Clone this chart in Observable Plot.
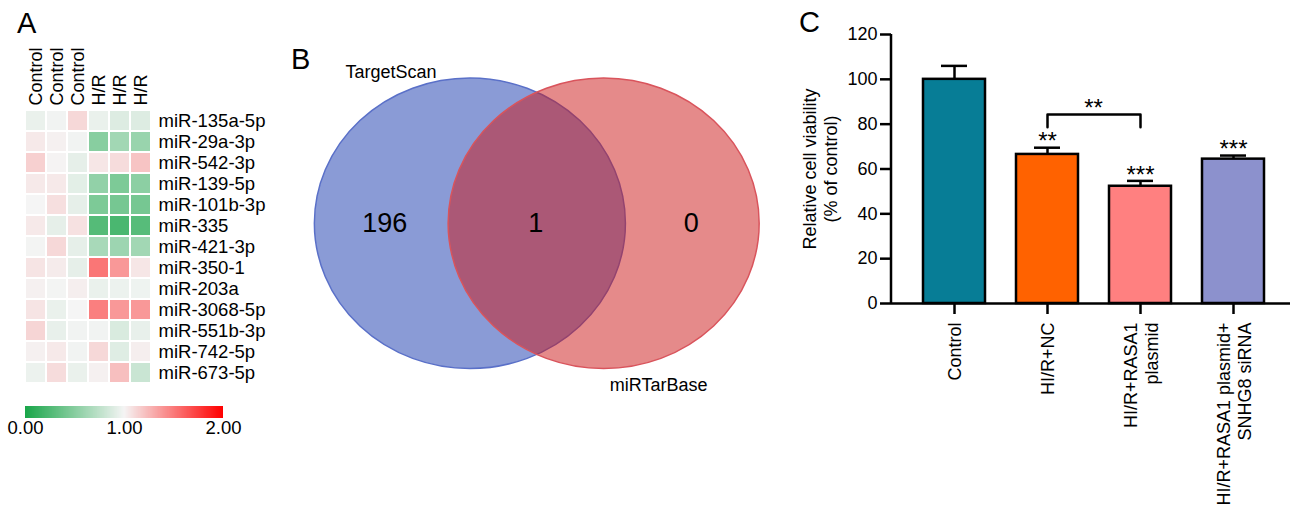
<!DOCTYPE html>
<html><head><meta charset="utf-8">
<script src="https://cdn.jsdelivr.net/npm/d3@7"></script>
<script src="https://cdn.jsdelivr.net/npm/@observablehq/plot@0.6"></script>
<style>
html,body{margin:0;padding:0;background:#fff;overflow:hidden}
#fig{position:relative;width:1290px;height:509px;font-family:"Liberation Sans",Arial,sans-serif;color:#000}
#fig svg{position:absolute;overflow:visible}
.letter{position:absolute;font-size:29px;line-height:1;color:#000}
</style></head>
<body><div id="fig"></div>
<script>
// ---------- Panel A data ----------
const mirnas = ["miR-135a-5p","miR-29a-3p","miR-542-3p","miR-139-5p","miR-101b-3p","miR-335","miR-421-3p","miR-350-1","miR-203a","miR-3068-5p","miR-551b-3p","miR-742-5p","miR-673-5p"];
const sampleLabels = ["Control","Control","Control","H/R","H/R","H/R"];
const ctrl1 = [0.95,1.05,1.15,1.05,1.00,1.05,0.99,1.07,1.02,1.07,1.13,1.02,0.96];
const ctrl2 = [0.98,1.02,1.01,1.05,1.09,0.93,1.12,1.04,0.99,0.95,0.94,1.05,1.10];
const ctrl3 = [1.12,0.98,0.93,0.92,0.93,1.08,0.93,0.93,1.03,1.00,0.98,0.98,0.95];
const hr1   = [0.95,0.50,1.06,0.55,0.45,0.27,0.65,1.52,0.95,1.48,0.98,1.12,1.02];
const hr2   = [0.89,0.62,1.10,0.45,0.42,0.22,0.60,1.38,0.96,1.38,0.87,0.90,1.22];
const hr3   = [0.89,0.58,1.20,0.52,0.42,0.28,0.62,1.06,0.97,1.38,0.94,1.03,0.80];
const legendTicks = [0, 1, 2];

// ---------- Panel B data ----------
const vennSets = ["TargetScan", "miRTarBase"];
const vennCenterX = [-0.43, 0.43];
const vennRadius = [1, 1];
const vennFill = ["#1537ad", "#cb1515"];
const vennStroke = ["#5a70c8", "#d9545c"];
const vennCounts = [196, 1, 0];
const countX = [-0.98, -0.01, 0.99];
const countY = [0, 0, 0];
const setLabelX = [-0.94, 0.78];
const setLabelY = [1.04, -1.11];

// ---------- Panel C data ----------
const groups = ["Control", "HI/R+NC", "HI/R+RASA1\nplasmid", "HI/R+RASA1 plasmid+\nSNHG8 siRNA"];
const viability = [100, 66.5, 52.3, 64.4];
const sem = [6.0, 3.0, 2.4, 1.6];
const sig = ["", "**", "***", "***"];
const barColors = ["#077d96", "#ff6200", "#ff8080", "#8c91cd"];
const yTicks = [0, 20, 40, 60, 80, 100, 120];
const bracketGroups = [groups[1], groups[1], groups[2], groups[2]];
const bracketY = [78.6, 84.3, 84.3, 78.6];
const bracketLabel = "**";
const yLabel = "Relative cell viability\n(% of control)";

const FONT = "Liberation Sans, Arial, sans-serif";
const fig = document.getElementById("fig");

// ---------- Panel A ----------
const heatCols = [ctrl1, ctrl2, ctrl3, hr1, hr2, hr3];
const heatData = heatCols.flatMap((col, j) => col.map((v, i) => ({sample: j, mirna: mirnas[i], value: v})));
const heat = Plot.plot({
  width: 290, height: 395,
  marginLeft: 24, marginRight: 138, marginTop: 108, marginBottom: 10,
  style: {fontFamily: FONT, fontSize: "18.5px", color: "#000", background: "transparent"},
  x: {type: "band", domain: d3.range(sampleLabels.length), padding: 0},
  y: {type: "band", domain: mirnas, padding: 0},
  color: {type: "linear", domain: legendTicks, range: ["#1aa64a", "#f5f5f5", "#ff0000"], interpolate: "rgb"},
  marks: [
    Plot.cell(heatData, {x: "sample", y: "mirna", fill: "value", inset: 1}),
    Plot.axisX({anchor: "top", tickSize: 0, tickPadding: 3, tickRotate: -90, tickFormat: i => sampleLabels[i], label: null, fill: "#000", fontSize: 18}),
    Plot.axisY({anchor: "right", tickSize: 0, tickPadding: 6, label: null, fill: "#000"})
  ]
});
heat.style.left = "0px"; heat.style.top = "0px";
fig.appendChild(heat);

const leg = heat.legend("color", {
  width: 260, height: 36, marginLeft: 25, marginRight: 37, marginTop: 2, marginBottom: 22,
  ticks: legendTicks, tickFormat: ".2f", tickSize: 0, label: null,
  style: {fontFamily: FONT, fontSize: "18.5px", color: "#000", background: "transparent"}
});
leg.querySelectorAll(".tick line").forEach(e => e.remove());
leg.style.position = "absolute"; leg.style.left = "0px"; leg.style.top = "404px";
fig.appendChild(leg);

// ---------- Panel B ----------
const venn = Plot.plot({
  width: 500, height: 509,
  marginLeft: 0, marginRight: 0, marginTop: 0, marginBottom: 0,
  style: {fontFamily: FONT, fontSize: "18px", color: "#000", background: "transparent"},
  x: {domain: [-1.651, 1.564], axis: null},
  y: {domain: [-1.967, 1.537], axis: null},
  marks: [
    (index, scales) => {
      const g = d3.create("svg:g");
      vennSets.forEach((s, i) => {
        const cx = scales.x(vennCenterX[i]), cy = scales.y(0);
        g.append("ellipse")
          .attr("cx", cx).attr("cy", cy)
          .attr("rx", scales.x(vennCenterX[i] + vennRadius[i]) - cx)
          .attr("ry", cy - scales.y(vennRadius[i]))
          .attr("fill", vennFill[i]).attr("fill-opacity", 0.5)
          .attr("stroke", vennStroke[i]).attr("stroke-width", 1.5);
      });
      return g.node();
    },
    Plot.text(vennCounts, {x: countX, y: countY, text: d => String(d), fontSize: 27, fill: "#000"}),
    Plot.text(vennSets, {x: setLabelX, y: setLabelY, text: d => d, fontSize: 18, fill: "#000"})
  ]
});
venn.style.left = "280px"; venn.style.top = "0px";
fig.appendChild(venn);

// ---------- Panel C ----------
const bars = groups.map((g, i) => ({group: g, mean: viability[i], err: sem[i], sig: sig[i], color: barColors[i]}));
const bracket = bracketGroups.map((g, i) => ({group: g, y: bracketY[i]}));
const barPlot = Plot.plot({
  width: 510, height: 509,
  marginLeft: 111, marginRight: 0, marginTop: 34, marginBottom: 206,
  style: {fontFamily: FONT, fontSize: "18px", color: "#000", background: "transparent"},
  x: {type: "band", domain: groups, paddingInner: 0.333, paddingOuter: 0.305, align: 0.56, label: null},
  y: {domain: [0, 120], label: null},
  color: {type: "identity"},
  marks: [
    Plot.ruleX(bars, {x: "group", y1: "mean", y2: d => d.mean + d.err, stroke: "#000", strokeWidth: 2.5}),
    Plot.tickY(bars, {x: "group", y: d => d.mean + d.err, stroke: "#000", strokeWidth: 2.5, insetLeft: 18, insetRight: 18}),
    Plot.barY(bars, {x: "group", y: "mean", fill: "color", stroke: "#000", strokeWidth: 2.5}),
    Plot.text(bars, {x: "group", y: d => d.mean + d.err, text: "sig", dy: -6, fontSize: 24, fill: "#000"}),
    Plot.line(bracket, {x: "group", y: "y", stroke: "#000", strokeWidth: 2.5}),
    Plot.text([bracketLabel], {x: () => groups[1], y: () => bracketY[1], text: d => d, dx: 46, dy: -6, fontSize: 24, fill: "#000"}),
    Plot.ruleY([0], {stroke: "#000", strokeWidth: 2.5}),
    (index, scales, values, dims) => {
      const g = d3.create("svg:g");
      g.append("line")
        .attr("x1", dims.marginLeft).attr("x2", dims.marginLeft)
        .attr("y1", scales.y(yTicks[yTicks.length - 1])).attr("y2", scales.y(0))
        .attr("stroke", "#000").attr("stroke-width", 2.5);
      return g.node();
    },
    Plot.axisY({ticks: yTicks, tickSize: 11, tickPadding: 3, strokeWidth: 2.5, stroke: "#000", label: null, fill: "#000"}),
    Plot.axisX({tickSize: 11, tickPadding: 8, tickRotate: -90, strokeWidth: 2.5, stroke: "#000", label: null, fill: "#000", lineHeight: 1.2}),
    Plot.text([yLabel], {frameAnchor: "left", textAnchor: "middle", rotate: -90, dx: -72, fontSize: 18, lineHeight: 1.17, fill: "#000"})
  ]
});
barPlot.style.left = "780px"; barPlot.style.top = "0px";
fig.appendChild(barPlot);

// ---------- Panel letters ----------
[["A", 17, 8.5], ["B", 291, 44.5], ["C", 799, 7.5]].forEach(([t, l, tp]) => {
  const d = document.createElement("div");
  d.className = "letter"; d.textContent = t;
  d.style.left = l + "px"; d.style.top = tp + "px";
  fig.appendChild(d);
});
</script></body></html>
